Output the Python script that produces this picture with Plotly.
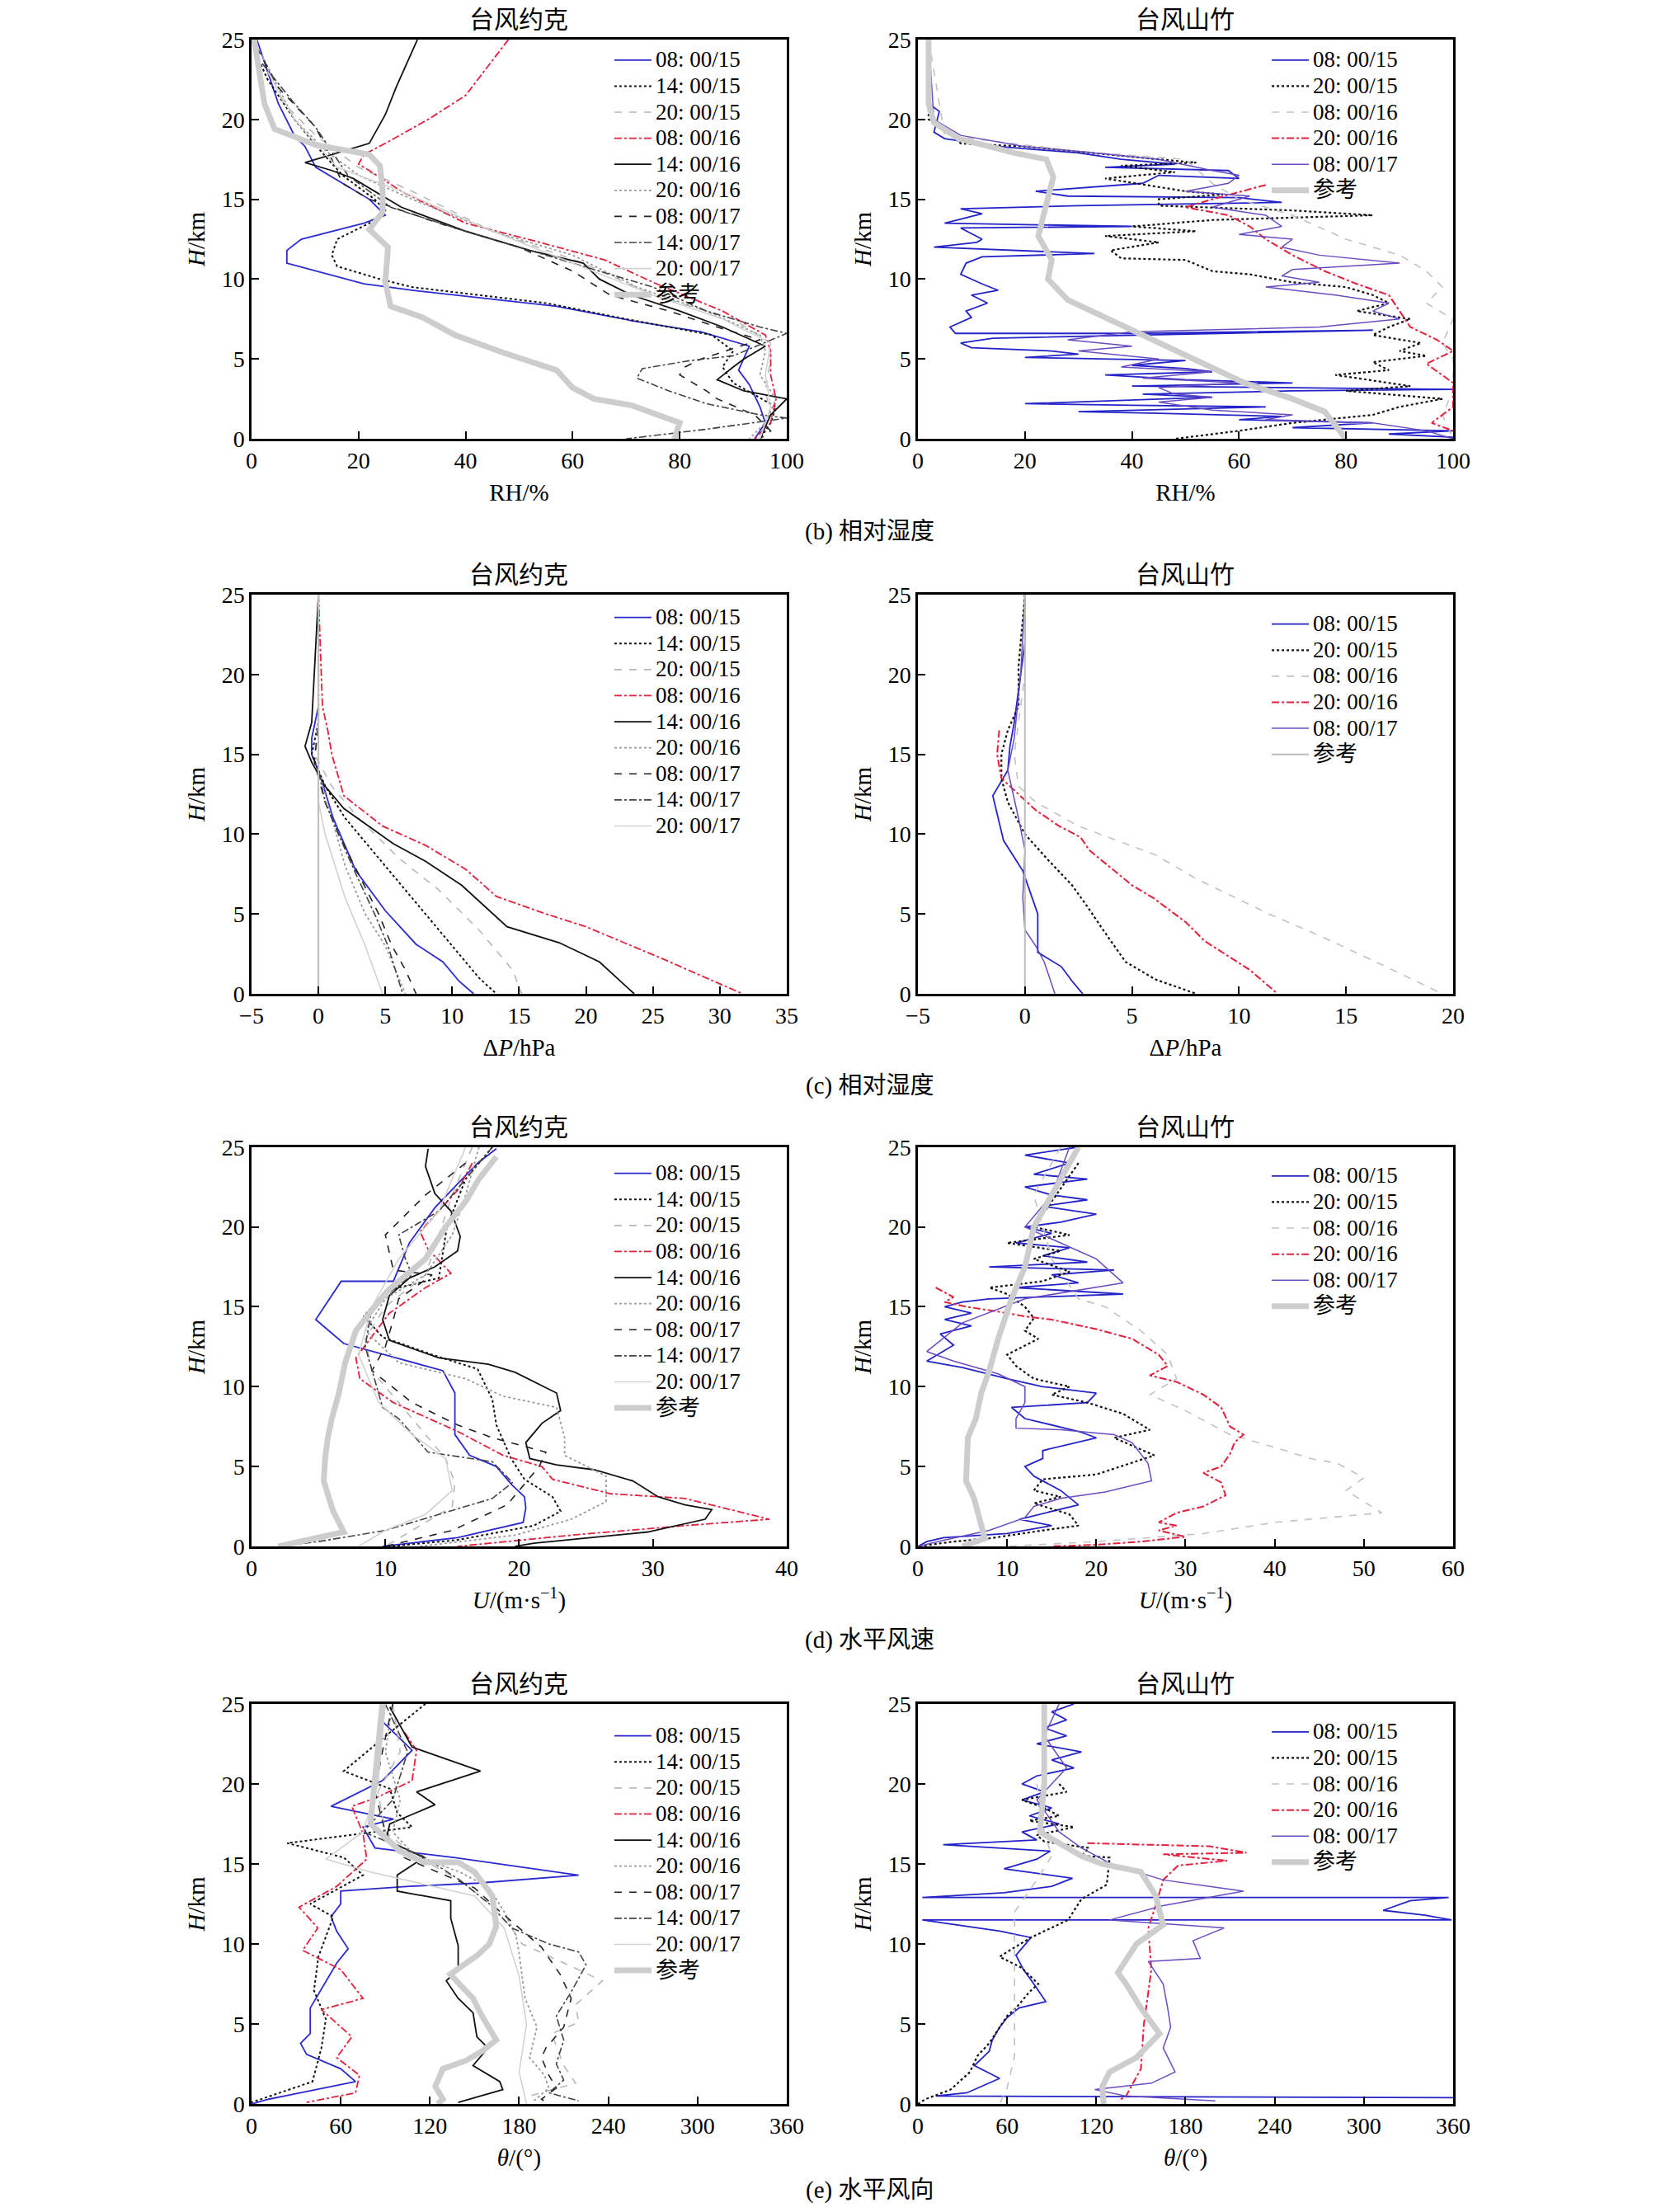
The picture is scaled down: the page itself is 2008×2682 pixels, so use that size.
import plotly.graph_objects as go

FONT = "Liberation Serif, Noto Sans CJK SC"

# ---------------- labels ----------------
york_labels = ['08: 00/15', '14: 00/15', '20: 00/15', '08: 00/16', '14: 00/16',
               '20: 00/16', '08: 00/17', '14: 00/17', '20: 00/17', '参考']
mk_labels = ['08: 00/15', '20: 00/15', '08: 00/16', '20: 00/16', '08: 00/17', '参考']

# ---------------- (b) RH, York: (RH %, H km) ----------------
rh_yk_0815 = [(1, 25), (3, 23), (5, 21), (8, 19), (10, 18.3), (12, 17), (17, 16), (22, 15), (25, 14), (21, 13.5),
              (9.3, 12.5), (6.6, 11.8), (6.6, 11), (21, 9.7), (30, 9.3), (57, 8.3), (71, 7.4), (84, 6.7), (93, 5.8),
              (92, 5), (91, 4.3), (93, 3.4), (95, 2), (96, 1), (94, 0)]
rh_yk_1415 = [(1, 24), (3, 22.5), (8, 20), (13, 18), (17, 16.5), (23, 15), (25, 14.3), (22, 13.5), (16, 12.5),
              (15, 11.5), (16, 10.8), (24, 10), (30, 9.5), (55, 8.5), (70, 7.5), (86, 6.5), (90, 5.5), (88, 4.5),
              (90, 3.5), (98, 2), (97, 1), (95, 0)]
rh_yk_2015 = [(2, 24), (6, 21), (12, 19), (20, 17), (30, 15.5), (45, 13), (62, 11), (75, 9), (90, 7.5), (97, 6),
              (97, 5), (96, 3), (97, 1.5), (95, 0)]
rh_yk_0816 = [(48, 25), (40, 21.5), (33, 20), (25, 18.5), (21, 17.8), (20, 17.2), (22, 16.8), (28, 15.5), (40, 13.5),
              (55, 12.2), (66, 11.2), (75, 9.8), (88, 8), (96, 6.5), (97, 5.5), (97, 4), (98, 2.5), (97, 1), (94, 0)]
rh_yk_1416 = [(31, 25), (29, 23.5), (27, 22), (25, 20.3), (22, 18.5), (10, 17.3), (15, 16.8), (19, 16.3), (28, 14.5),
              (40, 13), (52, 11.8), (62, 11), (65, 10), (71, 9), (80, 8), (88, 7), (96, 5.8), (92, 5), (90, 4.5),
              (87, 3.7), (92, 3), (100, 2.5), (97, 1.5), (95, 0)]
rh_yk_2016 = [(2, 24), (8, 20), (14, 18), (20, 16.5), (30, 15), (45, 13), (60, 11.5), (72, 9.5), (85, 8), (95, 6.5),
              (96, 5.5), (95, 4), (98, 2.5), (96, 1), (93, 0)]
rh_yk_0817 = [(1, 24.5), (5, 22), (12, 19.5), (15, 17.5), (17, 16), (22, 15), (35, 13.5), (50, 12), (60, 10.5),
              (67, 9), (78, 8), (87, 7), (95, 6.2), (84, 5), (81, 4.5), (80, 4), (85, 3), (87, 2.5), (94, 1.5),
              (97, 0.5), (95, 0)]
rh_yk_1417 = [(2, 23.5), (8, 21), (12, 19.5), (15, 18), (18, 16.5), (26, 14.5), (40, 13), (55, 11.5), (65, 10.5),
              (75, 9.5), (85, 8), (95, 7), (100, 6.6), (90, 5.2), (82, 4.9), (73, 4.4), (72, 3.8), (78, 3), (85, 2.2),
              (95, 1.5), (100, 1.3), (85, 0.6), (70, 0)]
rh_yk_2017 = [(3, 23), (8, 20), (16, 17), (28, 15.5), (45, 13), (60, 11), (75, 9), (88, 7.5), (97, 6), (96, 4),
              (97, 2), (95, 0)]
rh_yk_ref = [(0.5, 25), (2.4, 21), (4.3, 19.4), (12, 18.4), (22, 17.8), (24, 17.1), (24.5, 15.5), (24.5, 14.2),
             (22, 13.1), (25.5, 12), (25, 9.8), (26, 8.3), (32, 7.6), (38, 6.5), (47, 5.4), (57, 4.3), (60, 3.2),
             (64, 2.5), (71, 2.1), (77, 1.4), (80, 1), (79, 0)]

# ---------------- (b) RH, Mangkhut ----------------
rh_mk_0815 = [(2, 25), (2, 21), (4, 20.5), (3, 19.2), (5, 18.8), (15, 18.3), (30, 17.9), (38, 17.5), (48, 17.2),
              (35, 17), (58, 16.8), (60, 16.3), (45, 16.5), (42, 16), (22, 15.5), (28, 15.2), (60, 15.1), (68, 14.8),
              (30, 14.6), (8, 14.4), (12, 14.1), (5, 13.5), (40, 13.3), (8, 13.2), (12, 12.5), (11, 12.3), (3, 12),
              (33, 11.6), (12, 11.4), (9, 11), (8, 10.3), (12, 9.7), (15, 9.3), (10, 9), (13, 8.5), (9, 8), (10, 7.6),
              (6, 7), (7, 6.6), (40, 6.6), (85, 6.8), (14, 6.3), (8, 6), (10, 5.7), (25, 5.5), (30, 5.3), (20, 5.1),
              (50, 4.9), (40, 4.6), (50, 4.4), (55, 4.2), (35, 4.0), (50, 3.7), (70, 3.5), (40, 3.3), (100, 3.1),
              (70, 3.0), (42, 2.8), (55, 2.6), (20, 2.2), (40, 2.1), (65, 2), (30, 1.7), (45, 1.6), (68, 1.4),
              (60, 1.2), (85, 1), (70, 0.7), (100, 0.5), (88, 0.3), (100, 0.1)]
rh_mk_2015 = [(2, 25), (2, 20), (5, 19.5), (8, 18.5), (20, 18.3), (35, 17.8), (45, 17.5), (52, 17.3), (38, 17.1),
              (48, 16.7), (35, 16.3), (50, 15.5), (57, 15.3), (45, 15), (45, 14.6), (70, 14.3), (85, 14), (55, 13.7),
              (40, 13.3), (52, 13), (35, 12.7), (45, 12.3), (36, 11.8), (38, 11.3), (50, 11.2), (55, 10.5),
              (62, 10.3), (70, 9.8), (80, 9.5), (85, 9), (88, 8.5), (82, 8), (92, 7.5), (88, 7), (85, 6.5), (94, 6),
              (90, 5.5), (95, 5.2), (85, 4.8), (88, 4.3), (78, 4), (92, 3.3), (80, 3), (98, 2.5), (90, 2), (85, 1.5),
              (70, 1), (60, 0.5), (48, 0)]
rh_mk_0816 = [(2, 25), (5, 19), (30, 18), (50, 17.5), (55, 16), (60, 15), (70, 14), (80, 12.5), (90, 11.5),
              (95, 10.5), (98, 9.5), (95, 8.5), (100, 7.5), (98, 6), (100, 5), (100, 3), (98, 1.5), (100, 0)]
rh_mk_2016 = [(65, 15.9), (55, 15), (50, 14.5), (58, 14), (62, 13.3), (65, 12.5), (70, 11.5), (76, 10.5), (82, 9.7),
              (88, 9), (90, 8), (92, 7), (97, 6.2), (100, 5.5), (95, 4.7), (98, 4), (100, 3.5), (100, 2), (96, 1),
              (100, 0.5)]
rh_mk_0817 = [(2, 25), (3, 20), (8, 19), (20, 18.3), (30, 18), (45, 17.5), (55, 16.8), (60, 16.5), (58, 16),
              (50, 15.5), (62, 15.2), (55, 14.5), (65, 14), (68, 13.3), (60, 12.8), (70, 12.5), (68, 12), (75, 11.5),
              (90, 11), (70, 10.6), (68, 10.2), (75, 9.8), (65, 9.5), (78, 9), (88, 8.5), (85, 8), (90, 7.5),
              (75, 7), (40, 6.7), (28, 6.2), (40, 5.8), (30, 5.5), (45, 5), (38, 4.5), (55, 4.2), (42, 3.8),
              (60, 3.5), (45, 3.2), (48, 2.8), (55, 2.6), (45, 2.3), (55, 1.8), (70, 1.5), (65, 1.2), (85, 1),
              (95, 0.5), (100, 0)]
rh_mk_ref = [(2, 25), (2, 21), (3, 19.8), (7.6, 18.8), (18, 17.9), (24, 17.5), (25.3, 16.4), (24, 14.5), (22.5, 12.7),
             (25, 11.2), (24.3, 10), (28, 8.7), (35, 7.6), (41, 6.7), (50, 5.2), (61, 3.5), (70, 2.5), (76, 1.7),
             (79.5, 0.2), (80, 0)]

# ---------------- (c) dP, York ----------------
dp_yk_0815 = [(0, 25), (0, 18), (-0.5, 16), (-0.5, 15), (0.2, 13.5), (1.1, 11), (2.8, 7.7), (5, 5.2), (7.3, 3.1),
              (9.3, 2), (10.5, 0.8), (11.6, 0)]
dp_yk_1415 = [(0, 25), (0, 17), (-0.5, 15), (0.5, 13), (2, 11), (4, 9), (6, 7), (8.5, 4.5), (10.5, 2.5), (12, 1),
              (13.3, 0)]
dp_yk_2015 = [(0, 25), (0, 17), (-0.3, 15), (1, 13), (3, 11), (6, 8.5), (9, 6.5), (12, 4), (14.5, 1.5), (15.2, 0)]
dp_yk_0816 = [(0, 25), (0.3, 18), (0.7, 16.5), (1, 15), (1.9, 12.4), (4.8, 10.5), (8, 9.3), (11, 7.8), (13.3, 6.1),
              (17, 5), (20, 4.2), (25.7, 2.2), (31.7, 0)]
dp_yk_1416 = [(0, 25), (-0.5, 17), (-1, 15.5), (-0.5, 14.5), (0.5, 13), (1.9, 11.6), (5.6, 9.4), (8, 8.3),
              (10.7, 6.8), (14.1, 4.2), (18, 3.2), (21, 2), (23.6, 0)]
dp_yk_2016 = [(0, 25), (0, 17), (0, 14), (1, 11), (2, 8), (3.5, 5), (5, 3), (6.5, 0)]
dp_yk_0817 = [(0, 25), (0, 17), (-0.3, 14.5), (0.5, 12), (1.5, 10), (3, 7.5), (4.5, 5), (5.5, 3), (6.5, 1.5),
              (7.3, 0)]
dp_yk_1417 = [(0, 25), (0, 17), (0, 14), (0.5, 12), (1.5, 10), (2.8, 7.5), (4.2, 5), (5.2, 3), (6.3, 0)]
dp_yk_2017 = [(0, 25), (0, 16), (0, 12), (0.5, 10), (2, 6), (3.5, 3), (4.8, 0)]
dp_zero = [(0, 0), (0, 25)]

# ---------------- (c) dP, Mangkhut ----------------
dp_mk_0815 = [(0, 25), (0, 22), (-0.3, 19), (-0.5, 17), (-0.7, 15.5), (-0.8, 14), (-1.5, 12.4), (-1, 9.6),
              (-0.1, 7.7), (0.6, 5), (0.6, 2.6), (1.7, 1.7), (2.2, 0.8), (2.7, 0)]
dp_mk_2015 = [(0, 25), (-0.3, 20.5), (-0.3, 18), (-0.8, 16.5), (-1.1, 15), (-1.1, 13.5), (-0.8, 12), (0, 10),
              (1, 8.5), (2.2, 6.8), (3, 5.3), (3.6, 4.1), (4.7, 2), (6.1, 0.9), (8, 0)]
dp_mk_0816 = [(0, 25), (0, 20), (-0.5, 15), (-0.3, 13), (0.5, 12), (2.5, 10.5), (6.1, 8.7), (8, 7.2), (11.4, 5),
              (14, 3.5), (16.7, 1.8), (19.5, 0)]
dp_mk_2016 = [(-1.2, 16.5), (-1.3, 15), (-1.1, 13.5), (-0.3, 12.5), (0.5, 11.5), (1.6, 10.5), (2.6, 9.8), (3, 9),
              (5, 6.8), (6, 6), (7.5, 4.5), (8.4, 3.3), (10.5, 1.5), (11.8, 0)]
dp_mk_0817 = [(0, 25), (-0.2, 20), (-0.5, 16), (-0.8, 14), (-0.3, 11), (0, 9), (-0.1, 6), (0, 4), (0.5, 3),
              (0.9, 2), (1.4, 0)]

# ---------------- (d) wind speed, York ----------------
u_yk_0815 = [(18.3, 24.9), (16.9, 24), (15.4, 22.7), (13.7, 21.2), (11.8, 19), (10.6, 16.6), (6.7, 16.6),
             (4.8, 14.2), (6.9, 12.7), (10.9, 11.8), (14.3, 11), (15.2, 9.6), (15.2, 7), (16.3, 5.7), (18.3, 5),
             (19.4, 3.9), (20.4, 3.1), (20.5, 2.4), (20.3, 1.5), (15.4, 0.55), (9.8, 0)]
u_yk_1415 = [(18, 25), (16, 23), (14.6, 20), (14.3, 18.5), (14, 16.8), (10, 16), (8.4, 14.4), (9.8, 13.1),
             (13.5, 12), (16.9, 11.1), (18, 9.2), (18.3, 7.6), (19.4, 5.5), (20.4, 4.2), (22.5, 3.1), (23.1, 2.2),
             (21.1, 1.3), (15.4, 0.4), (10.3, 0)]
u_yk_2015 = [(16.5, 25), (15, 22), (14, 19.5), (13, 17), (10, 15), (8.5, 13), (9, 11), (11, 9), (13, 7),
             (14.5, 5.5), (15.2, 4), (15, 2.5), (12, 1), (10, 0)]
u_yk_0816 = [(16.5, 24), (15.4, 22.3), (12.6, 19.7), (13.2, 18.6), (14.9, 17.1), (13, 16.2), (10.3, 14.6),
             (7.8, 11.8), (8.1, 10.5), (10.6, 9), (15.4, 7.2), (18.8, 5.7), (21.7, 5), (22.5, 4.2), (26.8, 3.3),
             (32.4, 3), (38.7, 1.7), (32.4, 1.3), (23.9, 0.7), (15.4, 0)]
u_yk_1416 = [(13.2, 24.9), (13, 23.8), (13.7, 22.1), (14.9, 21), (15.6, 19.4), (15.4, 18.5), (13.7, 17.5),
             (11.8, 16.8), (10.3, 15.7), (9.8, 14.2), (10.3, 12.9), (14, 11.8), (17.7, 11.4), (19.7, 10.9),
             (22.8, 9.6), (23.1, 8.5), (21.7, 7.7), (20.5, 6.5), (20.8, 5.5), (22.8, 5.1), (25.6, 4.8), (28.5, 4.1),
             (30.4, 3.1), (32.4, 2.6), (34.4, 2.3), (33.9, 1.7), (29.6, 0.9), (21.1, 0.2), (19.7, 0)]
u_yk_2016 = [(17, 25), (16, 22), (15, 19.5), (13, 17), (10, 15.5), (8.5, 13.5), (11, 11.5), (16, 10.5),
             (18.8, 9.4), (22.8, 8.7), (23.4, 6.8), (23.4, 5.7), (26.5, 4.4), (26.5, 2.8), (23.9, 1.7),
             (19.7, 0.7), (12.6, 0)]
u_yk_0817 = [(16, 24), (13, 22), (10, 19.5), (10.6, 17.3), (13.5, 17), (11, 15.5), (10.6, 14.2), (10, 12.5),
             (9, 11), (12, 9), (15.4, 7.6), (18, 6.8), (22, 5.9), (21.5, 5), (20, 3.5), (19.1, 2.6), (15, 1),
             (10, 0)]
u_yk_1417 = [(18, 25), (16, 23), (14, 21), (11, 19.5), (11.5, 18), (12, 17), (9, 15), (8.5, 12.5), (9, 11),
             (9.8, 8.7), (11, 8), (13.2, 5.9), (18, 5.3), (19.5, 4), (18, 3), (14, 2), (10, 1), (5, 0.3), (2, 0)]
u_yk_2017 = [(16, 25), (14, 21), (11, 18), (9, 15), (8, 12), (9.5, 9), (12, 7), (14.5, 5.5), (15, 3.5), (13, 2),
             (10, 1), (8, 0)]
u_yk_ref = [(18.3, 24.4), (17, 23), (16, 21.6), (14.5, 20), (13, 18), (10.3, 16.1), (9, 14.8), (7.8, 13.5),
            (7, 11.5), (6.5, 9.5), (6, 8), (5.7, 6.8), (5.5, 5.5), (5.4, 4.1), (5.8, 3), (6.1, 2.2), (6.9, 0.9),
            (4.1, 0.4), (2, 0)]

# ---------------- (d) wind speed, Mangkhut ----------------
u_mk_0815 = [(18, 25), (12, 24.5), (17, 24), (13, 23.3), (19, 23), (12, 22.5), (15, 22), (19, 21.7), (14, 21.3),
             (20, 20.8), (16, 20.3), (12, 20), (15, 19.6), (11, 19), (17, 18.7), (14, 18.2), (19, 17.8), (8, 17.5),
             (22, 17.3), (15, 17), (18, 16.5), (11, 16.2), (23, 15.8), (8, 15.5), (5, 15.3), (3, 15), (6, 14.6),
             (3, 14.2), (6, 13.8), (2.5, 13.3), (4, 12.6), (1, 11.6), (5, 11.2), (10, 10.5), (14, 10), (20, 9.6),
             (19, 9), (10.5, 8.7), (12, 8), (18, 7.2), (20, 6.8), (14, 6), (14, 5.5), (12, 5), (13, 4.4), (16, 3.5),
             (18, 2.6), (15, 2.2), (11.4, 1.7), (15, 1.3), (10, 0.8), (2.9, 0.55), (1, 0.3), (0, 0)]
u_mk_2015 = [(18, 24), (13, 20), (17, 19.5), (10, 19), (16, 18.5), (13, 18), (17, 17.2), (14, 16.6), (8, 16.2),
             (10, 15.8), (12, 15), (13, 14.3), (12, 13.5), (13.5, 13), (10, 12), (11, 11.3), (13, 10.5), (17, 10),
             (15, 9.5), (19, 9), (23, 8.3), (26, 7.3), (22, 6.8), (26.5, 5.7), (20, 4.5), (14, 4.2), (13, 3.5),
             (16, 3.1), (13, 2.7), (17, 2), (18, 1.3), (14, 1), (8, 0.5), (4, 0.3), (0, 0)]
u_mk_0816 = [(16, 25), (13, 22), (15, 18), (18, 15.5), (21, 15), (25, 13.5), (28, 12), (29, 10.5), (26, 9.5),
             (30, 8.5), (35, 7), (40, 6.2), (44, 5.5), (47, 5.2), (50, 4.3), (48, 3.5), (52, 2.1), (40, 1.5),
             (32, 0.8), (20, 0.3), (10, 0)]
u_mk_2016 = [(2, 16.2), (4, 15.6), (3, 15.3), (5.5, 15), (9, 14.7), (12, 14.4), (15, 14.2), (20, 13.6), (24, 13),
             (27, 12), (28, 11.3), (26, 10.7), (29, 10.3), (32, 9.5), (34, 8.7), (35, 7.5), (36.5, 7), (35.5, 6.5),
             (35, 5.8), (34, 5), (32, 4.6), (34, 4), (34.5, 3.2), (32, 2.5), (29, 2.1), (27, 1.5), (29, 1.3),
             (27, 1), (30, 0.6), (25, 0.3), (20, 0.1), (15, 0)]
u_mk_0817 = [(17, 25), (15, 22), (12, 20), (20, 18), (23, 16.5), (12, 15.5), (5, 14), (1, 12.2), (4, 11.6),
             (9, 10.8), (12, 10), (12, 9), (11, 8), (11, 7.4), (16, 7.3), (22, 7), (24, 6.5), (25.8, 5.2),
             (26.2, 4.1), (21, 3.4), (16, 3), (13, 2.5), (12, 1.8), (8, 1), (3, 0.4), (0, 0)]
u_mk_ref = [(18, 25), (15, 22), (13, 20), (12, 17.5), (10.5, 15.5), (9, 13), (8, 11), (7.1, 9.6), (6.5, 8),
            (5.6, 6.8), (5.4, 4.1), (6.3, 3), (7.1, 1.3), (7.5, 0.5), (5, 0)]

# ---------------- (e) wind direction, York ----------------
th_yk_0815 = [(90, 25), (88, 23.9), (108, 22.1), (88, 20.2), (53.5, 18.6), (95.5, 17.8), (75, 17.3), (83, 16),
              (136, 15.4), (220, 14.3), (152, 13.8), (106, 13.6), (60, 13.3), (60, 12.5), (53.5, 11.7), (57.3, 10.8),
              (65, 9.7), (57.3, 8.8), (39.5, 6), (39.5, 4.4), (33, 3.8), (37, 3.1), (60, 2.2), (70, 1.4),
              (11.5, 0.3), (0, 0)]
th_yk_1415 = [(117, 25), (93, 23.2), (62, 20.8), (93, 19.7), (98, 18.2), (108, 17.3), (24, 16.3), (62, 15.4),
              (75, 14.3), (39.5, 12.5), (55, 11.7), (45, 9.2), (42, 7.1), (50, 5.3), (47, 3.5), (41, 1.4), (0, 0.1)]
th_yk_2015 = [(95, 25), (100, 22), (85, 19.5), (90, 17), (110, 15.5), (140, 14), (160, 12.5), (175, 11), (182, 10),
              (236, 7.7), (218, 6.2), (220, 5.1), (202, 4.4), (210, 2.4), (218, 1.3), (187, 0.5)]
th_yk_0816 = [(103, 23.2), (111, 22.1), (108, 20.2), (83, 19.1), (67.5, 18.6), (75, 16.9), (77.5, 15.3),
              (57.3, 13.6), (32, 12.3), (44.6, 11), (34.4, 9.6), (60, 8.4), (75, 6.6), (47, 5.9), (67.5, 4.2),
              (57.3, 2.9), (72.6, 1.8), (70, 0.7), (37, 0.1)]
th_yk_1416 = [(93, 24.8), (108, 22.3), (154, 20.8), (111, 19.5), (123.5, 18.7), (93, 17.5), (90.5, 16.5),
              (116, 15.4), (98, 14.3), (98, 13.3), (134, 12.7), (134, 11.6), (139, 9.9), (139, 8.4), (131, 7.7),
              (139, 6.6), (149, 5.7), (151.6, 4.2), (159, 3.5), (149, 2.4), (167, 1.4), (169, 0.9), (139, 0.1)]
th_yk_2016 = [(95, 25), (90, 22), (100, 19), (95, 17), (110, 15.5), (140, 14.5), (160, 13.5), (170, 12),
              (178, 10.5), (180, 9.4), (184, 6.6), (192, 4.8), (187, 2.9), (197, 1.8), (200, 1), (190, 0.2)]
th_yk_0817 = [(95, 25), (88, 22), (83, 19.5), (90, 17), (100, 15.5), (125, 14.5), (150, 13.5), (165, 12.2),
              (180, 11), (195, 9.8), (207.6, 8.1), (215, 6.6), (210, 4.8), (198, 3.5), (195, 2.9), (200, 1.8),
              (205, 1), (195, 0.3), (200, 0)]
th_yk_1417 = [(90, 25), (105, 22), (95, 19), (75, 17), (115, 15.5), (140, 14), (160, 12.5), (175, 11), (200, 10),
              (220, 9.5), (225, 8.7), (215, 7), (205, 5.5), (210, 4), (205, 2.5), (210, 1.5), (200, 0.7),
              (220, 0.2)]
th_yk_2017 = [(90, 25), (85, 20), (75, 17), (50, 15.3), (80, 14.5), (150, 13), (170, 11), (180, 8), (185, 5),
              (180, 2), (185, 0)]
th_yk_ref = [(88, 25), (85, 22), (82, 19.5), (80, 17.5), (100, 15.8), (116, 15.1), (139, 15.1), (150, 14.5),
             (162, 13), (164.6, 11.1), (160, 10), (152, 9.3), (133.7, 8.1), (140, 7.5), (149, 6.6), (155, 5.5),
             (164.6, 4), (155, 3.3), (144, 2.7), (128.7, 2.2), (123.6, 1.1), (128.7, 0.3), (125, 0)]

# ---------------- (e) wind direction, Mangkhut ----------------
th_mk_0815 = [(105, 25), (90, 24.5), (100, 24), (85, 23.5), (100, 23), (80, 22.5), (110, 22), (90, 21.5),
              (105, 21), (80, 20.5), (70, 20), (85, 19.5), (70, 19), (90, 18.5), (75, 18), (95, 17.5), (70, 17),
              (80, 16.5), (17, 16.2), (89, 15.8), (80, 15.3), (58, 14.7), (104, 14.1), (90, 13.6), (58, 13.2),
              (3, 12.9), (357, 12.9), (331, 12.7), (313, 12.1), (341, 11.8), (359, 11.5), (3, 11.5), (55, 10.8),
              (76, 10.4), (66, 9.3), (71, 8.4), (78, 7.5), (86, 6.4), (68, 6), (60, 5.4), (55, 4.8), (50, 4),
              (48, 3.3), (38, 2.4), (55, 1.6), (33, 0.7), (12, 0.5), (360, 0.4)]
th_mk_2015 = [(95, 20), (100, 19.5), (70, 19), (85, 18.5), (95, 18), (75, 17.7), (105, 17.3), (80, 16.8),
              (85, 16.4), (115, 16), (110, 15.5), (129, 15.4), (127, 13.7), (110, 12.8), (101, 11.5), (76, 10.4),
              (60, 9.5), (55, 9.2), (70, 8.5), (81, 7.5), (75, 7), (66, 6), (60, 5.5), (48, 3.8), (40, 3),
              (35, 2), (22, 0.9), (5, 0.3), (0, 0)]
th_mk_0816 = [(80, 20), (85, 17), (90, 15.5), (80, 14), (65, 12), (65, 9), (65, 6), (65, 3), (60, 1), (55, 0)]
th_mk_2016 = [(114, 16.3), (196, 16.1), (221, 15.7), (165, 15.6), (208, 15.2), (175, 14.9), (165, 14),
              (160, 12.4), (155, 11), (157, 8.4), (155, 7), (152, 5), (150, 2.2), (140, 0.5), (135, 0.2)]
th_mk_0817 = [(95, 25), (85, 23), (100, 21), (80, 19), (95, 17), (110, 16), (130, 15), (165, 14), (219, 13.3),
              (165, 12.4), (129, 11.5), (206, 11), (185, 10.2), (190, 9.1), (155, 8.9), (165, 7.5), (168, 6),
              (170, 4.8), (165, 3.5), (173, 2), (157, 1.3), (119, 0.9), (140, 0.5), (200, 0.2)]
th_mk_ref = [(85, 25), (85, 20), (82, 17), (110, 15.5), (124, 15), (150, 14.5), (160, 13), (165, 11.2),
             (147, 10), (134.5, 8.2), (140, 7.5), (150, 6), (162.5, 4.4), (147, 2.9), (129, 2), (124, 1.1),
             (125, 0)]

# ---------------- styles ----------------
york_style = {'08: 00/15': ('#2a2ad0', 'solid', 1.8), '14: 00/15': ('#111111', 'dot', 2),
              '20: 00/15': ('#b8b8b8', 'dash', 1.6), '08: 00/16': ('#e3203c', 'dashdot', 1.8),
              '14: 00/16': ('#111111', 'solid', 1.8), '20: 00/16': ('#9a9a9a', 'dot', 1.8),
              '08: 00/17': ('#222222', 'dash', 1.6), '14: 00/17': ('#444444', 'dashdot', 1.6),
              '20: 00/17': ('#d2d2d2', 'solid', 1.6), '参考': ('#cdcdcd', 'solid', 7)}
mk_style = {'08: 00/15': ('#2323c8', 'solid', 1.8), '20: 00/15': ('#111111', 'dot', 2.2),
            '08: 00/16': ('#c2c2c2', 'dash', 1.6), '20: 00/16': ('#e3203c', 'dashdot', 2),
            '08: 00/17': ('#6a4cc0', 'solid', 1.5), '参考': ('#cdcdcd', 'solid', 7)}

panels = [
    # (series, labels, styles, x range, dtick, x title)
    ([rh_yk_0815, rh_yk_1415, rh_yk_2015, rh_yk_0816, rh_yk_1416, rh_yk_2016, rh_yk_0817, rh_yk_1417,
      rh_yk_2017, rh_yk_ref], york_labels, york_style, [0, 100], 20, 'RH/%'),
    ([rh_mk_0815, rh_mk_2015, rh_mk_0816, rh_mk_2016, rh_mk_0817, rh_mk_ref], mk_labels, mk_style,
     [0, 100], 20, 'RH/%'),
    ([dp_yk_0815, dp_yk_1415, dp_yk_2015, dp_yk_0816, dp_yk_1416, dp_yk_2016, dp_yk_0817, dp_yk_1417,
      dp_yk_2017], york_labels[:9], york_style, [-5, 35], 5, 'Δ<i>P</i>/hPa'),
    ([dp_mk_0815, dp_mk_2015, dp_mk_0816, dp_mk_2016, dp_mk_0817, dp_zero], mk_labels, mk_style,
     [-5, 20], 5, 'Δ<i>P</i>/hPa'),
    ([u_yk_0815, u_yk_1415, u_yk_2015, u_yk_0816, u_yk_1416, u_yk_2016, u_yk_0817, u_yk_1417, u_yk_2017,
      u_yk_ref], york_labels, york_style, [0, 40], 10, '<i>U</i>/(m·s<sup>−1</sup>)'),
    ([u_mk_0815, u_mk_2015, u_mk_0816, u_mk_2016, u_mk_0817, u_mk_ref], mk_labels, mk_style,
     [0, 60], 10, '<i>U</i>/(m·s<sup>−1</sup>)'),
    ([th_yk_0815, th_yk_1415, th_yk_2015, th_yk_0816, th_yk_1416, th_yk_2016, th_yk_0817, th_yk_1417,
      th_yk_2017, th_yk_ref], york_labels, york_style, [0, 360], 60, '<i>θ</i>/(°)'),
    ([th_mk_0815, th_mk_2015, th_mk_0816, th_mk_2016, th_mk_0817, th_mk_ref], mk_labels, mk_style,
     [0, 360], 60, '<i>θ</i>/(°)'),
]

# page body margin shifts the figure by ~8px; compensate in paper coords
DX, DY = -0.004, 0.003
x_domains = [[0.1519 + DX, 0.4751 + DX], [0.5543 + DX, 0.8775 + DX]]
y_domains = [[0.8016 + DY, 0.9821 + DY], [0.5507 + DY, 0.7312 + DY],
             [0.3009 + DY, 0.4814 + DY], [0.0488 + DY, 0.2297 + DY]]
legend_y = [[0.9806, 0.9806], [0.7286, 0.7256], [0.4773, 0.4761], [0.2230, 0.2248]]
legend_x = [0.3685, 0.7655]
titles = ['台风约克', '台风山竹']
captions = ['(b) 相对湿度', '(c) 相对湿度', '(d) 水平风速', '(e) 水平风向']
caption_y = [0.7595, 0.509, 0.2584, 0.0097]

fig = go.Figure()
layout = dict(width=2008, height=2682, margin=dict(l=0, r=0, t=0, b=0),
              paper_bgcolor='white', plot_bgcolor='white',
              font=dict(family=FONT, size=28, color='black'), annotations=[])

for k, (series, labels, styles, xr, dt, xtitle) in enumerate(panels):
    row, col = k // 2, k % 2
    n = k + 1
    xa = 'x' if n == 1 else f'x{n}'
    ya = 'y' if n == 1 else f'y{n}'
    lg = 'legend' if n == 1 else f'legend{n}'
    for s, lab in zip(series, labels):
        color, dash, w = styles[lab]
        if s is dp_zero:
            color, w = '#bdbdbd', 2
        fig.add_trace(go.Scatter(
            x=[p[0] for p in s], y=[p[1] for p in s], mode='lines',
            name=f'<span style="font-size:27px">{lab}</span>',
            line=dict(color=color, dash=dash, width=w),
            xaxis=xa, yaxis=ya, legend=lg, showlegend=True))
    if k == 2:
        fig.add_trace(go.Scatter(x=[p[0] for p in dp_zero], y=[p[1] for p in dp_zero], mode='lines',
                                 line=dict(color='#bdbdbd', width=2), xaxis=xa, yaxis=ya, showlegend=False))

    axis_common = dict(showline=True, linecolor='black', linewidth=2.5, mirror=True, ticks='inside',
                       ticklen=9, tickwidth=2, tickcolor='black', showgrid=False, zeroline=False,
                       automargin=False, tickfont=dict(size=28, family=FONT))
    layout['xaxis' if n == 1 else f'xaxis{n}'] = dict(
        axis_common, domain=x_domains[col], range=xr, dtick=dt, tick0=0,
        anchor=ya, title=dict(text=xtitle, standoff=14, font=dict(size=29, family=FONT)))
    layout['yaxis' if n == 1 else f'yaxis{n}'] = dict(
        axis_common, domain=y_domains[row], range=[0, 25], dtick=5, anchor=xa,
        title=dict(text='<i>H</i>/km', standoff=12, font=dict(size=29, family=FONT)))
    layout[lg] = dict(x=legend_x[col] + DX, y=legend_y[row][col] + DY, xanchor='left', yanchor='top',
                      bgcolor='rgba(0,0,0,0)', borderwidth=0, itemwidth=45,
                      font=dict(size=22, family=FONT), tracegroupgap=0)
    layout['annotations'].append(dict(
        text=titles[col], x=sum(x_domains[col]) / 2, y=y_domains[row][1], xref='paper', yref='paper',
        xanchor='center', yanchor='bottom', yshift=6, showarrow=False, font=dict(size=30, family=FONT)))

for cap, cy in zip(captions, caption_y):
    layout['annotations'].append(dict(text=cap, x=0.5254 + DX, y=cy + DY, xref='paper', yref='paper',
                                      xanchor='center', yanchor='middle', showarrow=False,
                                      font=dict(size=29, family=FONT)))

fig.update_layout(**layout)
fig.write_html("out.html")
